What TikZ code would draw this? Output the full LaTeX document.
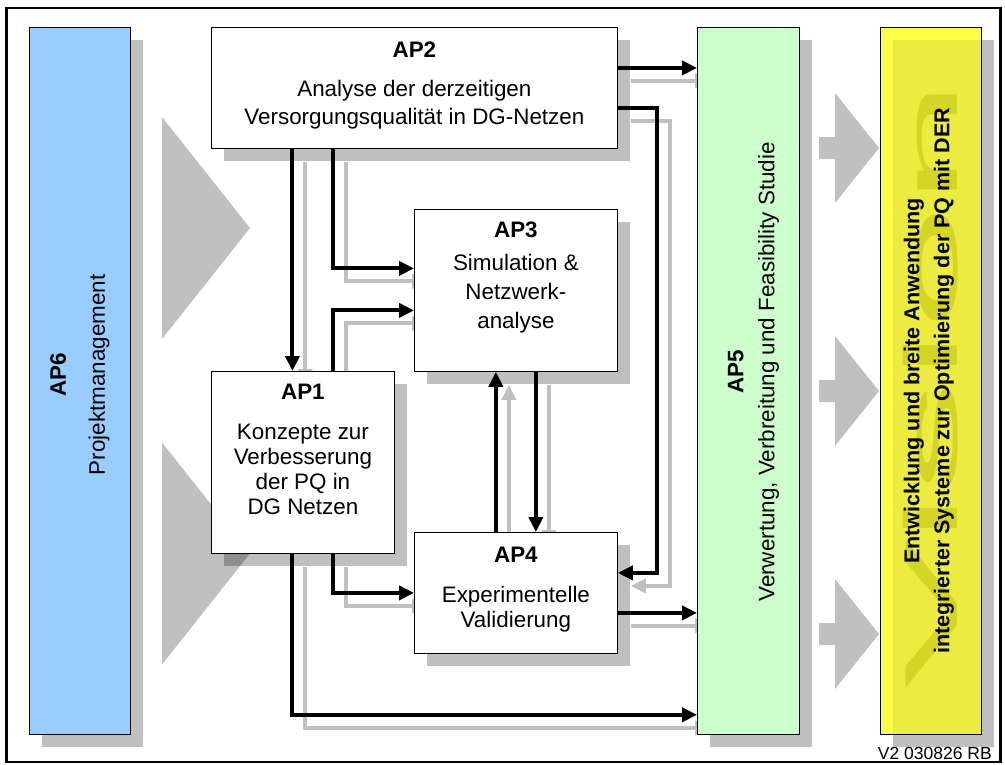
\documentclass[tikz,border=0pt]{standalone}
\usepackage{fontspec}
\setmainfont{Liberation Sans}
\usepackage{graphicx}
\usepackage{tikz}
\usetikzlibrary{arrows.meta,positioning,calc,shadows}
\pgfdeclarelayer{background}
\pgfsetlayers{background,main}

\definecolor{apblau}{HTML}{99CCFF}
\definecolor{apgruen}{HTML}{CCFFCC}
\definecolor{zielgelb}{HTML}{FFFF48}
\definecolor{zielgelbdunkel}{HTML}{ECEC40}
\definecolor{schatten}{HTML}{C0C0C0}
\definecolor{wzeichen}{HTML}{B4B400}

% connectors between the work packages (drawn twice: shadow, then black)
\newcommand{\apflows}[1]{%
  \draw[#1] (a2o) -- (a2o -| ap5.west);
  \draw[#1] (a2u) -| (mid |- a4o) -- (a4o);
  \draw[#1] (l1 |- ap2.south) -- (l1);
  \draw[#1] (l2 |- ap2.south) |- ([yshift=22pt]ap3.west);
  \draw[#1] (l2) |- ([yshift=-20pt]ap3.west);
  \draw[#1] ([xshift=-20pt]ap4.north) -- ([xshift=-20pt]ap3.south);
  \draw[#1] ([xshift=20pt]ap3.south) -- ([xshift=20pt]ap4.north);
  \draw[#1] (l2 |- ap1.south) |- (ap4.west);
  \draw[#1] (l1 |- ap1.south) |- ([yshift=20pt]ap5.south west);
  \draw[#1] (a4u) -- (a4u -| ap5.west);
}

\begin{document}
\begin{tikzpicture}[
  x=1pt, y=-1pt,
  box/.style={draw, fill=white, line width=0.8pt, inner sep=0pt, anchor=north west,
    drop shadow={shadow xshift=13pt, shadow yshift=-13pt, fill=black, opacity=0.25}},
  aptext/.style={align=center, inner sep=0pt},
  sidetext/.style={rotate=90, align=center, inner sep=0pt},
  flow/.style={line width=4pt, -{Triangle[length=15pt,width=14pt]}},
  shadowflow/.style={flow, draw=schatten},
  font=\fontsize{22.4}{27}\selectfont
]
\useasboundingbox (0,0) rectangle (1005,764);

% work package boxes
\node[box, fill=apblau, minimum width=101pt, minimum height=707pt] (ap6) at (29,27) {};
\node[box, minimum width=406pt, minimum height=121pt] (ap2) at (211,27) {};
\node[box, minimum width=203pt, minimum height=162pt] (ap3) at (414,209) {};
\node[box, minimum width=183pt, minimum height=182pt] (ap1) at (211,371) {};
\node[box, minimum width=203pt, minimum height=121pt] (ap4) at (414,532) {};
\node[box, fill=apgruen, minimum width=102pt, minimum height=707pt] (ap5) at (697,27) {};
\node[box, fill=zielgelb, minimum width=101pt, minimum height=707pt] (ziel) at (880,27) {};
\fill[zielgelbdunkel] ([xshift=13pt,yshift=-13pt]ziel.north west)
  rectangle ([xshift=-0.4pt,yshift=0.4pt]ziel.south east);

% watermark in the goal box
\node[rotate=90, anchor=base, inner sep=0pt, text=wzeichen, text opacity=0.4,
  font=\fontsize{75}{80}\selectfont] (vision) at (957,385) {\scalebox{3}[1]{Vision}};

% box texts
\node[aptext, below=15pt of ap2.north, font=\fontsize{22.4}{28}\selectfont] (ap2t)
  {\textbf{AP2}\\[11pt]Analyse der derzeitigen\\Versorgungsqualität in DG-Netzen};
\node[aptext, below=13pt of ap3.north, font=\fontsize{22.4}{29}\selectfont] (ap3t)
  {\textbf{AP3}\\[4pt]Simulation \&\\Netzwerk-\\analyse};
\node[aptext, below=13pt of ap1.north, font=\fontsize{22.4}{25}\selectfont] (ap1t)
  {\textbf{AP1}\\[15pt]Konzepte zur\\Verbesserung\\der PQ in\\DG Netzen};
\node[aptext, below=15pt of ap4.north, font=\fontsize{22.4}{25}\selectfont] (ap4t)
  {\textbf{AP4}\\[15pt]Experimentelle\\Validierung};
\node[sidetext] (ap6t) at ([yshift=6pt]ap6.center) {\textbf{AP6}\\[12pt]Projektmanagement};
\node[sidetext] (ap5t) at ([xshift=5pt,yshift=9pt]ap5.center)
  {\textbf{AP5}\\[4pt]Verwertung, Verbreitung und Feasibility Studie};
\node[sidetext, font=\bfseries\fontsize{21.5}{30}\selectfont] (zielt) at ([xshift=-2pt]ziel.center)
  {Entwicklung und breite Anwendung\\integrierter Systeme zur Optimierung der PQ mit DER};

\node[anchor=base east, inner sep=0pt, font=\fontsize{17.5}{20}\selectfont] (stand) at (992,759) {V2 030826 RB};

% connector points
\coordinate (a2o) at ([yshift=20pt]ap2.east);
\coordinate (a2u) at ([yshift=-20pt]ap2.east);
\coordinate (a4o) at ([yshift=20pt]ap4.east);
\coordinate (a4u) at ([yshift=-20pt]ap4.east);
\coordinate (mid) at ($(ap2.east)!0.5!(ap5.west)$);
\coordinate (l1) at ([xshift=-10.5pt]ap1.north);
\coordinate (l2) at ([xshift=30.5pt]ap1.north);

% background chevrons and connector shadows
\begin{pgfonlayer}{background}
\foreach \yc in {228,553.5}
  \fill[schatten] (162,\yc-111) -- (250,\yc) -- (162,\yc+111) -- cycle;
\foreach \yc in {148,391,634}
  \fill[schatten] (819,\yc-11) -- (835,\yc-11) -- (835,\yc-55) -- (879,\yc)
    -- (835,\yc+55) -- (835,\yc+11) -- (819,\yc+11) -- cycle;
\begin{scope}[transform canvas={xshift=13pt, yshift=-13pt}]
  \apflows{shadowflow}
\end{scope}
\end{pgfonlayer}

\apflows{flow}

% outer frame
\draw[line width=2.5pt] (6.5,8) rectangle (1000.5,762);
\end{tikzpicture}
\end{document}
